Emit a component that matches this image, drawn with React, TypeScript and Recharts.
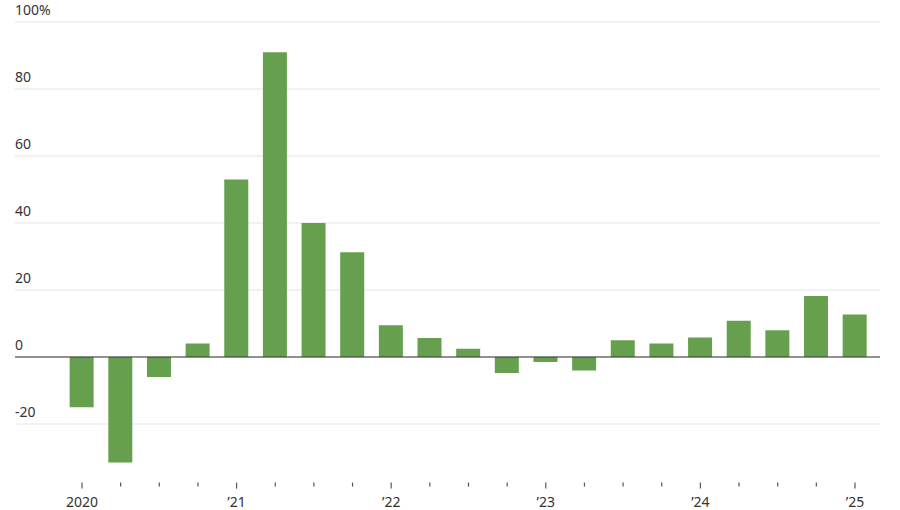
import React from "react";
import { BarChart, Bar, XAxis, YAxis, CartesianGrid, ReferenceLine } from "recharts";

// quarterly change, %
const quarters = [
  "2020 Q1", "2020 Q2", "2020 Q3", "2020 Q4",
  "2021 Q1", "2021 Q2", "2021 Q3", "2021 Q4",
  "2022 Q1", "2022 Q2", "2022 Q3", "2022 Q4",
  "2023 Q1", "2023 Q2", "2023 Q3", "2023 Q4",
  "2024 Q1", "2024 Q2", "2024 Q3", "2024 Q4",
  "2025 Q1",
];
const values = [
  -15, -31.5, -6, 4,
  53, 91, 40, 31.3,
  9.5, 5.7, 2.5, -4.8,
  -1.5, -4, 5, 4,
  5.8, 10.8, 8, 18.2,
  12.7,
];
const yearLabels: Record<number, string> = {
  0: "2020", 4: "\u201921", 8: "\u201922", 12: "\u201923", 16: "\u201924", 20: "\u201925",
};
const yTicks = [-20, 0, 20, 40, 60, 80, 100];

const data = quarters.map((q, i) => ({ i, q, value: values[i] }));

const FONT = "'Noto Sans', 'Open Sans', sans-serif";

const XTick = (props: any) => {
  const { x, y, payload } = props;
  const label = yearLabels[payload.value];
  const major = label !== undefined;
  return (
    <g>
      <line x1={x} x2={x} y1={y + 5} y2={y + (major ? 11 : 9)} stroke="#555" strokeWidth={1.2} />
      {major && (
        <text x={x} y={y + 29} textAnchor="middle" fontSize={14} fill="#333" fontFamily={FONT}>
          {label}
        </text>
      )}
    </g>
  );
};

const YTick = (props: any) => {
  const { y, payload } = props;
  const v = payload.value;
  return (
    <text x={15} y={y - 7} textAnchor="start" fontSize={14} fill="#333" fontFamily={FONT}>
      {v === 100 ? "100%" : v}
    </text>
  );
};

export default function App() {
  return (
    <div style={{ position: "absolute", left: 0, top: 0, background: "#fff" }}>
      <BarChart width={900} height={510} data={data} margin={{ top: 22, right: 20, left: 0, bottom: 0 }}>
        <CartesianGrid vertical={false} stroke="#e3e3e3" horizontalValues={yTicks} />
        <XAxis
          dataKey="i"
          type="number"
          domain={[-1.733, 20.647]}
          ticks={quarters.map((_, i) => i)}
          interval={0}
          axisLine={false}
          tickLine={false}
          tickSize={0}
          tickMargin={0}
          height={32.4}
          tick={<XTick />}
        />
        <YAxis
          type="number"
          domain={[-36, 100]}
          ticks={yTicks}
          width={15}
          axisLine={false}
          tickLine={false}
          tickSize={0}
          tickMargin={0}
          tick={<YTick />}
          interval={0}
          allowDataOverflow
        />
        <Bar dataKey="value" fill="#66a04f" barSize={24} isAnimationActive={false} />
        <ReferenceLine y={0} stroke="#333" strokeWidth={1.2} />
      </BarChart>
    </div>
  );
}
